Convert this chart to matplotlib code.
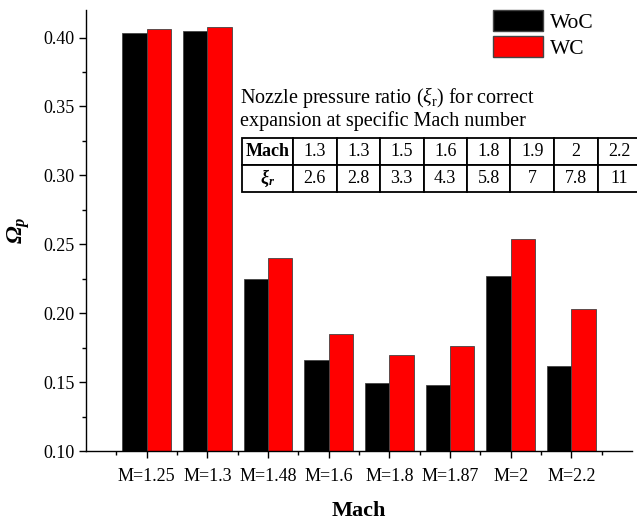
import numpy as np
import matplotlib
matplotlib.use('Agg')
import matplotlib.pyplot as plt
from matplotlib.patches import Patch
from matplotlib.ticker import MultipleLocator

plt.rcParams['font.family'] = 'Liberation Serif'
plt.rcParams['mathtext.fontset'] = 'custom'
plt.rcParams['mathtext.rm'] = 'Liberation Serif'
plt.rcParams['mathtext.it'] = 'Liberation Serif:italic'
plt.rcParams['mathtext.bf'] = 'Liberation Serif:bold'
plt.rcParams['mathtext.bfit'] = 'Liberation Serif:italic:bold'

# Power coefficient without / with control
machs = ['M=1.25', 'M=1.3', 'M=1.48', 'M=1.6', 'M=1.8', 'M=1.87', 'M=2', 'M=2.2']
woc = [0.403, 0.405, 0.225, 0.166, 0.149, 0.148, 0.227, 0.162]
wc = [0.406, 0.408, 0.240, 0.185, 0.170, 0.176, 0.254, 0.203]

# Nozzle pressure ratio table
tab_mach = ['1.3', '1.3', '1.5', '1.6', '1.8', '1.9', '2', '2.2']
tab_npr = ['2.6', '2.8', '3.3', '4.3', '5.8', '7', '7.8', '11']

fig = plt.figure(figsize=(6.37, 5.21), dpi=100)
ax = fig.add_axes([86/637, 70/521, 546/637, 441/521])

x = np.arange(len(machs))
w = 0.4
ax.bar(x - w/2, woc, w, color='black', edgecolor='#444444', linewidth=0.6, label='WoC')
ax.bar(x + w/2, wc, w, color='red', edgecolor='#444444', linewidth=0.6, label='WC')

ax.set_xlim(-1, 8)
ax.set_ylim(0.10, 0.42)
ax.set_xticks(x)
ax.set_xticklabels(machs)
ax.xaxis.set_minor_locator(MultipleLocator(1, offset=0.5))
ax.yaxis.set_major_locator(MultipleLocator(0.05))
ax.yaxis.set_minor_locator(MultipleLocator(0.025))
ax.yaxis.set_major_formatter(plt.FormatStrFormatter('%.2f'))
ax.tick_params(which='major', direction='out', length=5, width=1, labelsize=13, pad=3)
ax.tick_params(which='minor', direction='out', length=3, width=1)
ax.tick_params(axis='x', which='major', pad=7)
for s in ['top', 'right']:
    ax.spines[s].set_visible(False)
for s in ['left', 'bottom']:
    ax.spines[s].set_linewidth(1)

ax.set_xlabel('Mach', fontsize=16, fontweight='bold', labelpad=12)
ax.set_ylabel(r'$\mathbfit{\Omega}_\mathbfit{p}$', fontsize=17, labelpad=8)

handles = [Patch(facecolor='black', edgecolor='#444444', label='WoC'),
           Patch(facecolor='red', edgecolor='#444444', label='WC')]
fig.legend(handles=handles, loc='upper left', bbox_to_anchor=(493/637, 1 - 10/521),
           frameon=False, fontsize=15.5, borderpad=0, borderaxespad=0,
           handlelength=2.3, handleheight=1.15, handletextpad=0.35, labelspacing=0.12)

# caption and table
fig.text(240/637, 1 - 97/521, r'Nozzle pressure ratio $(\xi_{\mathrm{r}})$ for correct',
         fontsize=14.5, va='center', ha='left')
fig.text(240/637, 1 - 121/521, 'expansion at specific Mach number',
         fontsize=14.5, va='center', ha='left')

cells = [['Mach'] + tab_mach, [r'$\mathbfit{\xi}_\mathbfit{r}$'] + tab_npr]
col_w = [51] + [43.5] * len(tab_mach)
tbl = ax.table(cellText=cells, colWidths=[c / sum(col_w) for c in col_w],
               cellLoc='center', bbox=[(242 - 86) / 546, (451 - 192) / 441,
                                       sum(col_w) / 546, (192 - 138) / 441])
tbl.auto_set_font_size(False)
for (r, c), cell in tbl.get_celld().items():
    cell.set_linewidth(1.3)
    cell.set_edgecolor('black')
    cell.set_facecolor('white')
    cell.get_text().set_fontsize(13)
    if r == 0 and c == 0:
        cell.get_text().set_fontweight('bold')
tbl.set_clip_on(False)

fig.savefig('out.png', dpi=100)
